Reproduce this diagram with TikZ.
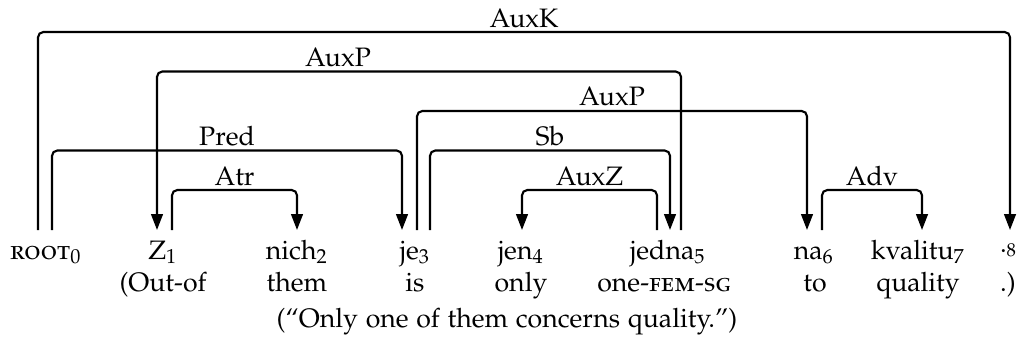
\documentclass[tikz,border=0pt]{standalone}
\usepackage[T1]{fontenc}
\usepackage[sc]{mathpazo}
\usetikzlibrary{arrows.meta}
\begin{document}
\begin{tikzpicture}[x=0.375pt,y=-0.375pt,
  dep/.style={line width=0.8pt, rounded corners=2pt},
  arr/.style={dep, -{Triangle[length=6pt,width=4.4pt]}},
  word/.style={anchor=base, inner sep=0pt, font=\fontsize{10}{12}\selectfont},
  lab/.style={anchor=base, inner sep=0pt, font=\fontsize{10}{12}\selectfont}]
\useasboundingbox (0,0) rectangle (1023,341);
% words
\node[word] (w0) at (46,259) {\textsc{root}$_0$};
\node[word] (w1) at (163,259) {Z$_1$};
\node[word] (w2) at (297,259) {nich$_2$};
\node[word] (w3) at (415,259) {je$_3$};
\node[word] (w4) at (521,259) {jen$_4$};
\node[word] (w5) at (668,259) {jedna$_5$};
\node[word] (w6) at (814,259) {na$_6$};
\node[word] (w7) at (918,259) {kvalitu$_7$};
\node[word] (w8) at (1008,259) {\raisebox{2.4pt}{.}\raisebox{1.1pt}{\scriptsize 8}};
% glosses
\node[word] (g1) at (163,291) {(Out-of};
\node[word] (g2) at (297,291) {them};
\node[word] (g3) at (415,291) {is};
\node[word] (g4) at (521,291) {only};
\node[word] (g5) at (664,291) {one-\textsc{fem-sg}};
\node[word] (g6) at (815,291) {to};
\node[word] (g7) at (918,291) {quality};
\node[word] (g8) at (1008,291) {.)};
\node[word] (tr) at (507,327) {(``Only one of them concerns quality.'')};
% arc end points
\coordinate (r0a) at (38,230);
\coordinate (r0b) at (52,230);
\coordinate (z1a) at (157,230);
\coordinate (z1b) at (172,230);
\coordinate (n2) at (297,230);
\coordinate (j3a) at (402,230);
\coordinate (j3b) at (417,230);
\coordinate (j3c) at (430,230);
\coordinate (jn4) at (522,230);
\coordinate (j5a) at (657,230);
\coordinate (j5b) at (670,230);
\coordinate (j5c) at (681,230);
\coordinate (n6a) at (807,230);
\coordinate (n6b) at (822,230);
\coordinate (k7) at (922,230);
\coordinate (p8) at (1010,230);
% arcs
\draw[arr] (r0a) -- ++(0,-198) -| (p8);
\draw[arr] (j5c) -- ++(0,-158.5) -| (z1a);
\draw[arr] (j3b) -- ++(0,-119) -| (n6a);
\draw[arr] (r0b) -- ++(0,-79.5) -| (j3a);
\draw[arr] (j3c) -- ++(0,-79.5) -| (j5b);
\draw[arr] (z1b) -- ++(0,-40) -| (n2);
\draw[arr] (j5a) -- ++(0,-40) -| (jn4);
\draw[arr] (n6b) -- ++(0,-40) -| (k7);
% labels
\node[lab] (lAuxK) at (524,27) {AuxK};
\node[lab] (lAuxPa) at (338,66) {AuxP};
\node[lab] (lAuxPb) at (612,105.5) {AuxP};
\node[lab] (lPred) at (227,145.5) {Pred};
\node[lab] (lSb) at (550,145.5) {Sb};
\node[lab] (lAtr) at (234.5,185) {Atr};
\node[lab] (lAuxZ) at (589.5,185) {AuxZ};
\node[lab] (lAdv) at (872,185) {Adv};
\end{tikzpicture}
\end{document}
